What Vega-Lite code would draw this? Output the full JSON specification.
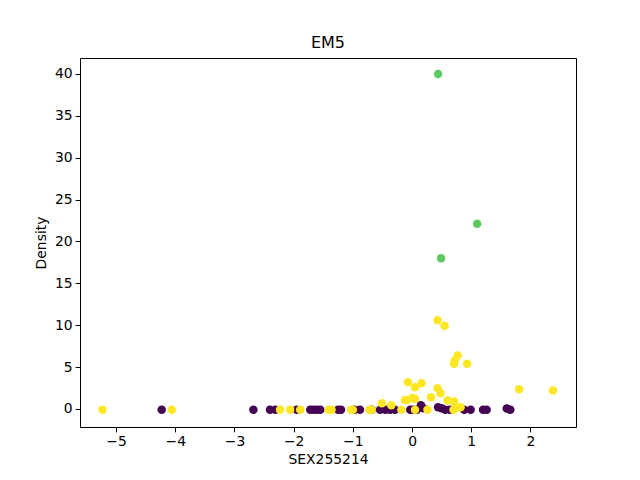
{
  "$schema": "https://vega.github.io/schema/vega-lite/v6.json",
  "width": 496,
  "height": 369,
  "autosize": {"type": "none"},
  "padding": {"left": 80, "top": 58, "right": 64, "bottom": 53},
  "background": "white",
  "title": {"text": "EM5", "font": "DejaVu Sans", "fontSize": 16, "fontWeight": "normal", "color": "black", "offset": 7},
  "config": {
    "view": {"stroke": "black", "strokeWidth": 1},
    "axis": {
      "labelFont": "DejaVu Sans", "labelFontSize": 13.9, "labelColor": "black",
      "titleFont": "DejaVu Sans", "titleFontSize": 13.9, "titleFontWeight": "normal", "titleColor": "black",
      "tickColor": "black", "tickSize": 4.86, "domain": false, "grid": false, "labelPadding": 3
    }
  },
  "data": {"values": [
    {"x": -4.23, "y": -0.1, "g": "a"}, {"x": -2.68, "y": -0.1, "g": "a"}, {"x": -2.40, "y": -0.1, "g": "a"},
    {"x": -2.31, "y": -0.1, "g": "a"}, {"x": -1.95, "y": -0.1, "g": "a"}, {"x": -1.72, "y": -0.1, "g": "a"},
    {"x": -1.67, "y": -0.1, "g": "a"}, {"x": -1.61, "y": -0.1, "g": "a"}, {"x": -1.55, "y": -0.1, "g": "a"},
    {"x": -1.25, "y": -0.1, "g": "a"}, {"x": -1.20, "y": -0.1, "g": "a"}, {"x": -0.97, "y": -0.1, "g": "a"},
    {"x": -0.88, "y": -0.1, "g": "a"}, {"x": -0.68, "y": -0.1, "g": "a"}, {"x": -0.54, "y": -0.1, "g": "a"},
    {"x": -0.45, "y": -0.1, "g": "a"}, {"x": -0.37, "y": -0.1, "g": "a"}, {"x": -0.29, "y": -0.1, "g": "a"},
    {"x": -0.03, "y": -0.1, "g": "a"}, {"x": 0.02, "y": -0.1, "g": "a"}, {"x": 0.08, "y": -0.1, "g": "a"},
    {"x": 0.15, "y": 0.44, "g": "a"}, {"x": 0.19, "y": 0.1, "g": "a"}, {"x": 0.44, "y": 0.2, "g": "a"},
    {"x": 0.50, "y": 0.1, "g": "a"}, {"x": 0.56, "y": -0.1, "g": "a"}, {"x": 0.64, "y": -0.1, "g": "a"},
    {"x": 0.88, "y": -0.1, "g": "a"}, {"x": 0.99, "y": -0.1, "g": "a"}, {"x": 1.20, "y": -0.1, "g": "a"},
    {"x": 1.26, "y": -0.1, "g": "a"}, {"x": 1.60, "y": 0.05, "g": "a"}, {"x": 1.66, "y": -0.1, "g": "a"},
    {"x": -5.23, "y": -0.1, "g": "c"}, {"x": -4.06, "y": -0.1, "g": "c"}, {"x": -2.23, "y": -0.1, "g": "c"},
    {"x": -2.06, "y": -0.1, "g": "c"}, {"x": -1.89, "y": -0.1, "g": "c"}, {"x": -1.41, "y": -0.1, "g": "c"},
    {"x": -1.36, "y": -0.1, "g": "c"}, {"x": -1.03, "y": -0.1, "g": "c"}, {"x": -1.00, "y": -0.1, "g": "c"},
    {"x": -0.72, "y": -0.1, "g": "c"}, {"x": -0.68, "y": -0.1, "g": "c"}, {"x": -0.51, "y": 0.68, "g": "c"},
    {"x": -0.35, "y": 0.44, "g": "c"}, {"x": -0.18, "y": -0.1, "g": "c"}, {"x": -0.12, "y": 1.07, "g": "c"},
    {"x": -0.08, "y": 1.07, "g": "c"}, {"x": -0.07, "y": 3.2, "g": "c"}, {"x": 0.0, "y": 1.3, "g": "c"},
    {"x": 0.05, "y": 1.23, "g": "c"}, {"x": 0.05, "y": 2.6, "g": "c"}, {"x": 0.05, "y": -0.1, "g": "c"},
    {"x": 0.16, "y": 3.06, "g": "c"}, {"x": 0.26, "y": -0.1, "g": "c"}, {"x": 0.32, "y": 1.4, "g": "c"},
    {"x": 0.43, "y": 10.6, "g": "c"}, {"x": 0.55, "y": 9.95, "g": "c"}, {"x": 0.43, "y": 2.47, "g": "c"},
    {"x": 0.48, "y": 1.87, "g": "c"}, {"x": 0.60, "y": 1.0, "g": "c"}, {"x": 0.71, "y": 0.9, "g": "c"},
    {"x": 0.70, "y": -0.1, "g": "c"}, {"x": 0.73, "y": 0.05, "g": "c"}, {"x": 0.82, "y": 0.2, "g": "c"},
    {"x": 0.77, "y": 6.4, "g": "c"}, {"x": 0.72, "y": 5.8, "g": "c"}, {"x": 0.71, "y": 5.4, "g": "c"},
    {"x": 0.93, "y": 5.4, "g": "c"}, {"x": 1.81, "y": 2.35, "g": "c"}, {"x": 2.38, "y": 2.2, "g": "c"},
    {"x": 0.44, "y": 40.0, "g": "b"}, {"x": 1.10, "y": 22.1, "g": "b"}, {"x": 0.49, "y": 18.0, "g": "b"}
  ]},
  "mark": {"type": "circle", "size": 72, "opacity": 1},
  "encoding": {
    "x": {"field": "x", "type": "quantitative", "title": "SEX255214",
      "scale": {"domain": [-5.61, 2.77], "nice": false, "zero": false},
      "axis": {"values": [-5, -4, -3, -2, -1, 0, 1, 2], "format": "d", "titlePadding": 4}},
    "y": {"field": "y", "type": "quantitative", "title": "Density",
      "scale": {"domain": [-2.15, 41.9], "nice": false, "zero": false},
      "axis": {"values": [0, 5, 10, 15, 20, 25, 30, 35, 40], "format": "d", "titlePadding": 6}},
    "color": {"field": "g", "type": "nominal", "legend": null,
      "scale": {"domain": ["a", "b", "c"], "range": ["#440154", "#5ec962", "#fde725"]}}
  }
}
